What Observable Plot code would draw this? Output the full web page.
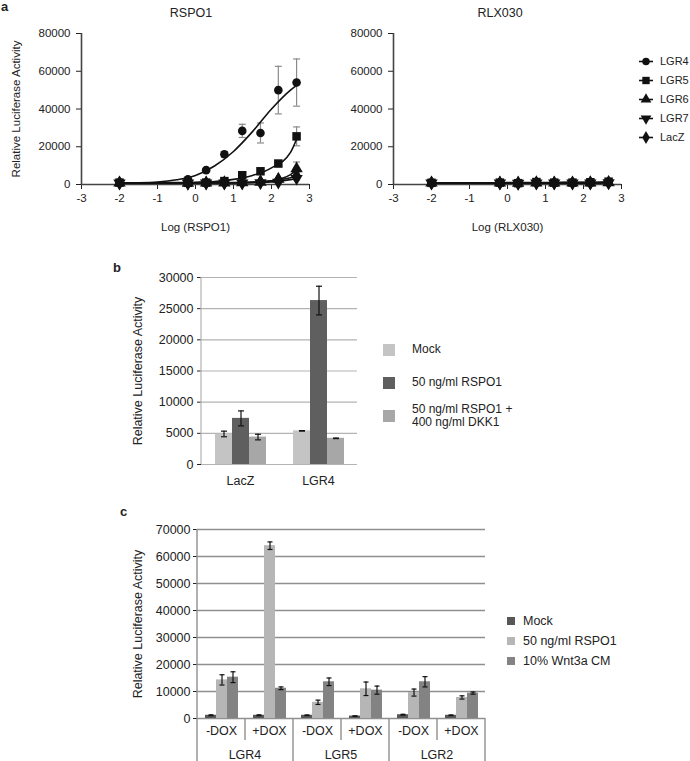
<!DOCTYPE html>
<html><head><meta charset="utf-8">
<script src="https://cdn.jsdelivr.net/npm/d3@7"></script>
<script src="https://cdn.jsdelivr.net/npm/@observablehq/plot@0.6"></script>
<style>
body{margin:0;background:#fff;font-family:"Liberation Sans",Arial,sans-serif;color:#222}
#root{position:relative;width:690px;height:761px;overflow:hidden;background:#fff}
.abs{position:absolute;white-space:nowrap}
.letter{font-weight:bold;font-size:13px;line-height:13px}
.ttl{font-size:12.5px;transform:translateX(-50%)}
</style></head><body><div id="root"></div>
<script>
// ---------- Panel a data ----------
const logDose = [-2, -0.2, 0.28, 0.76, 1.23, 1.71, 2.18, 2.66];
const fitX = [-2, -1.5, -1, -0.5, 0, 0.5, 1, 1.5, 2, 2.5, 2.66];
const receptors = ["LGR4", "LGR5", "LGR6", "LGR7", "LacZ"];
const xTicksA = [-3, -2, -1, 0, 1, 2, 3];
const yTicksA = [0, 20000, 40000, 60000, 80000];

const rspoLGR4 = [900, 2800, 7600, 16000, 28400, 27300, 50000, 54000];
const rspoLGR4Err = [300, 500, 800, 1500, 3500, 5300, 12600, 12500];
const rspoLGR5 = [1000, 900, 1000, 1800, 4900, 7000, 11100, 25500];
const rspoLGR5Err = [200, 200, 200, 300, 600, 800, 1200, 5000];
const rspoLGR6 = [800, 700, 800, 900, 1000, 1200, 2800, 8400];
const rspoLGR6Err = [150, 150, 150, 150, 200, 300, 600, 3500];
const rspoLGR7 = [800, 700, 700, 800, 800, 900, 1200, 3200];
const rspoLGR7Err = [150, 150, 150, 150, 150, 200, 300, 800];
const rspoLacZ = [800, 700, 800, 900, 1000, 1400, 2500, 4600];
const rspoLacZErr = [150, 150, 150, 150, 200, 300, 500, 1500];

const rspoFitLGR4 = [800, 900, 1300, 2500, 4800, 9800, 17500, 28000, 40000, 50000, 52500];
const rspoFitLGR5 = [900, 900, 950, 1000, 1200, 1600, 2700, 4800, 8800, 17000, 24000];
const rspoFitLGR6 = [800, 800, 800, 800, 800, 850, 900, 1100, 2000, 5200, 8000];
const rspoFitLGR7 = [800, 800, 800, 800, 800, 800, 850, 950, 1400, 2600, 3200];
const rspoFitLacZ = [800, 800, 800, 800, 850, 900, 1000, 1300, 2000, 3600, 4500];

const rlxLGR4 = [1000, 900, 800, 1100, 900, 900, 1000, 1100];
const rlxLGR5 = [900, 1000, 700, 1300, 1000, 1000, 1200, 1500];
const rlxLGR6 = [800, 800, 700, 900, 800, 800, 900, 1000];
const rlxLGR7 = [700, 700, 600, 800, 700, 700, 800, 900];
const rlxLacZ = [800, 800, 700, 900, 800, 800, 900, 1000];
const rlxErr = [150, 150, 150, 200, 150, 150, 200, 250];
const rlxFitLGR4 = [950, 950, 950, 950, 950, 950, 950, 970, 1000, 1050, 1050];
const rlxFitLGR5 = [950, 950, 950, 950, 980, 1000, 1050, 1100, 1150, 1250, 1300];
const rlxFitLGR6 = [800, 800, 800, 800, 800, 800, 820, 840, 860, 900, 950];
const rlxFitLGR7 = [700, 700, 700, 700, 700, 700, 720, 740, 760, 800, 850];
const rlxFitLacZ = [800, 800, 800, 800, 800, 800, 820, 840, 860, 900, 950];

// ---------- Panel b data ----------
const bCategories = ["LacZ", "LGR4"];
const bConditions = ["Mock", "50 ng/ml RSPO1", "50 ng/ml RSPO1 +\n400 ng/ml DKK1"];
const bColors = ["#c4c4c4", "#5f5f5f", "#a7a7a7"];
const bMock = [4900, 5400];
const bMockErr = [450, 40];
const bRspo = [7400, 26300];
const bRspoErr = [1200, 2300];
const bDkk = [4400, 4200];
const bDkkErr = [450, 40];
const yTicksB = [0, 5000, 10000, 15000, 20000, 25000, 30000];

// ---------- Panel c data ----------
const cGenes = ["LGR4", "LGR5", "LGR2"];
const cDox = ["-DOX", "+DOX"];
const cConditions = ["Mock", "50 ng/ml RSPO1", "10% Wnt3a CM"];
const cColors = ["#575757", "#b6b6b6", "#838383"];
const cMock = [1200, 1200, 1200, 900, 1400, 1200];
const cMockErr = [150, 150, 100, 80, 150, 100];
const cRspo = [14300, 64000, 6000, 11000, 9600, 7800];
const cRspoErr = [1900, 1400, 800, 2500, 1300, 600];
const cWnt = [15300, 11200, 13600, 10500, 13600, 9400];
const cWntErr = [2000, 500, 1400, 1500, 1900, 400];
const yTicksC = [0, 10000, 20000, 30000, 40000, 50000, 60000, 70000];

const yTitle = "Relative Luciferase Activity";
const FONT = '"Liberation Sans", Arial, sans-serif';

// ---------- helpers ----------
const root = document.getElementById("root");
function place(el, left, top) { el.style.position = "absolute"; el.style.left = left + "px"; el.style.top = top + "px"; root.appendChild(el); return el; }
function div(html, left, top, cls, css) { const d = document.createElement("div"); d.className = "abs " + (cls || ""); d.innerHTML = html; if (css) d.style.cssText += css; return place(d, left, top); }

const cap = { draw(ctx, size) { const w = Math.sqrt(size); ctx.moveTo(-w / 2, 0); ctx.lineTo(w / 2, 0); } };
const capR = w => Math.sqrt(w * w / Math.PI);
const triangleDown = { draw(ctx, size) { const s3 = Math.sqrt(3); const y = -Math.sqrt(size / (s3 * 3)); ctx.moveTo(0, -y * 2); ctx.lineTo(-s3 * y, y); ctx.lineTo(s3 * y, y); ctx.closePath(); } };
const symbolsA = ["circle", "square", "triangle", triangleDown, "diamond"];
const symbolD3 = [d3.symbolCircle, d3.symbolSquare, d3.symbolTriangle, triangleDown, d3.symbolDiamond];
const rA = [4.3, 4.8, 4.6, 4.6, 4.6];

// ---------- Panel a ----------
function doseChart({ series, errs, fits, label, showY, width, ml }) {
  const pts = [], fitRows = [];
  receptors.forEach((r, k) => {
    series[k].forEach((v, i) => pts.push({ r, x: logDose[i], y: v, e: errs[k][i] }));
    fits[k].forEach((v, i) => fitRows.push({ r, x: fitX[i], y: v }));
  });
  return Plot.plot({
    width, height: 233, marginLeft: ml, marginRight: width - ml - 228, marginTop: 33, marginBottom: 49,
    style: { fontFamily: FONT, fontSize: "11.5px", color: "#222", background: "transparent", overflow: "visible" },
    x: { domain: [xTicksA[0], xTicksA[xTicksA.length - 1]], ticks: xTicksA, tickFormat: d => String(d), tickSize: 5, tickPadding: 4,
         label, labelAnchor: "center", labelOffset: 46, labelArrow: "none" },
    y: { domain: [yTicksA[0], yTicksA[yTicksA.length - 1]], ticks: yTicksA, tickFormat: d3.format("d"), tickSize: 5, tickPadding: 6,
         label: showY ? yTitle : null, labelAnchor: "center", labelOffset: 70, labelArrow: "none" },
    marks: [
      Plot.ruleX(pts, { x: "x", y1: d => d.y - d.e, y2: d => d.y + d.e, stroke: "#8a8a8a", strokeWidth: 1.2 }),
      Plot.dot(pts, { x: "x", y: d => d.y + d.e, symbol: cap, r: capR(7), fill: "none", stroke: "#8a8a8a", strokeWidth: 1.2 }),
      Plot.dot(pts, { x: "x", y: d => d.y - d.e, symbol: cap, r: capR(7), fill: "none", stroke: "#8a8a8a", strokeWidth: 1.2 }),
      Plot.ruleY([yTicksA[0]], { stroke: "#444", strokeWidth: 1.6 }),
      Plot.ruleX([xTicksA[0]], { stroke: "#444", strokeWidth: 1.6 }),
      Plot.line(fitRows, { x: "x", y: "y", z: "r", curve: "monotone-x", stroke: "#111", strokeWidth: 1.6 }),
      ...receptors.map((r, k) => Plot.dot(pts.filter(d => d.r === r), { x: "x", y: "y", symbol: symbolsA[k], r: rA[k], fill: "#111", stroke: "none" }))
    ]
  });
}

div("a", 1, 0, "letter");
div("RSPO1", 191, 6, "ttl");
div("RLX030", 500, 6, "ttl");

const chartA1 = doseChart({
  series: [rspoLGR4, rspoLGR5, rspoLGR6, rspoLGR7, rspoLacZ],
  errs: [rspoLGR4Err, rspoLGR5Err, rspoLGR6Err, rspoLGR7Err, rspoLacZErr],
  fits: [rspoFitLGR4, rspoFitLGR5, rspoFitLGR6, rspoFitLGR7, rspoFitLacZ],
  label: "Log (RSPO1)", showY: true, width: 330, ml: 81
});
place(chartA1, 0, 0);

const chartA2 = doseChart({
  series: [rlxLGR4, rlxLGR5, rlxLGR6, rlxLGR7, rlxLacZ],
  errs: [rlxErr, rlxErr, rlxErr, rlxErr, rlxErr],
  fits: [rlxFitLGR4, rlxFitLGR5, rlxFitLGR6, rlxFitLGR7, rlxFitLacZ],
  label: "Log (RLX030)", showY: false, width: 300, ml: 63
});
place(chartA2, 330, 0);

// legend a
receptors.forEach((r, k) => {
  const path = d3.symbol(symbolD3[k], Math.PI * rA[k] * rA[k] * 0.75)();
  div(`<svg width="20" height="19" style="vertical-align:middle"><line x1="2" x2="16" y1="9.5" y2="9.5" stroke="#111" stroke-width="1.6"/><path d="${path}" transform="translate(9,9.5)" fill="#111"/></svg><span style="margin-left:3px;vertical-align:middle;font-size:11px">${r}</span>`,
      637, 51 + 19 * k, "", "height:19px;line-height:19px");
});

// ---------- Panel b ----------
const bRows = [];
bCategories.forEach((c, i) => {
  [[bMock, bMockErr], [bRspo, bRspoErr], [bDkk, bDkkErr]].forEach(([vals, errs], k) =>
    bRows.push({ cat: c, cond: bConditions[k], v: vals[i], e: errs[i] }));
});
const chartB = Plot.plot({
  width: 270, height: 245, marginLeft: 100, marginRight: 13, marginTop: 27, marginBottom: 31,
  style: { fontFamily: FONT, fontSize: "12.5px", color: "#222", background: "transparent", overflow: "visible" },
  fx: { domain: bCategories, padding: 0, label: null, tickSize: 0, tickPadding: 12, axis: "bottom" },
  x: { domain: bConditions, paddingInner: 0, paddingOuter: 0.74, axis: null },
  y: { domain: [yTicksB[0], yTicksB[yTicksB.length - 1]], ticks: yTicksB, tickFormat: d3.format("d"), tickSize: 4, tickPadding: 4,
       label: yTitle, labelAnchor: "center", labelOffset: 68, labelArrow: "none" },
  color: { domain: bConditions, range: bColors },
  marks: [
    Plot.ruleY(yTicksB, { stroke: "#b3b3b3", strokeWidth: 1.2 }),
    Plot.barY(bRows, { fx: "cat", x: "cond", y: "v", fill: "cond", inset: 0 }),
    Plot.ruleX(bRows, { fx: "cat", x: "cond", y1: d => d.v - d.e, y2: d => d.v + d.e, stroke: "#111", strokeWidth: 1.2 }),
    Plot.dot(bRows, { fx: "cat", x: "cond", y: d => d.v + d.e, symbol: cap, r: capR(6), fill: "none", stroke: "#111", strokeWidth: 1.2 }),
    Plot.dot(bRows, { fx: "cat", x: "cond", y: d => d.v - d.e, symbol: cap, r: capR(6), fill: "none", stroke: "#111", strokeWidth: 1.2 })
  ]
});
{
  const fxS = chartB.scale("fx"), yS = chartB.scale("y");
  const x0 = fxS.apply(bCategories[0]);
  d3.select(chartB).append("line").attr("x1", x0).attr("x2", x0)
    .attr("y1", yS.apply(yTicksB[yTicksB.length - 1])).attr("y2", yS.apply(0)).attr("stroke", "#b3b3b3").attr("stroke-width", 1.2);
}
place(chartB, 100, 250);
div("b", 113, 261, "letter");

// legend b
bConditions.forEach((c, k) => {
  div(`<span style="display:inline-block;width:12px;height:12px;background:${bColors[k]};vertical-align:middle"></span><span style="display:inline-block;margin-left:17px;vertical-align:middle;white-space:pre-line;font-size:12px;line-height:13px">${c}</span>`,
      383, 333 + 33 * k, "", "height:33px;display:flex;align-items:center");
});

// ---------- Panel c ----------
const cKeys = [];
cGenes.forEach(g => cDox.forEach(d => cKeys.push(g + " " + d)));
const cRows = [];
cKeys.forEach((key, i) => {
  [[cMock, cMockErr], [cRspo, cRspoErr], [cWnt, cWntErr]].forEach(([vals, errs], k) =>
    cRows.push({ key, cond: cConditions[k], v: vals[i], e: errs[i] }));
});
const chartC = Plot.plot({
  width: 400, height: 261, marginLeft: 97, marginRight: 15, marginTop: 29, marginBottom: 43,
  style: { fontFamily: FONT, fontSize: "12.5px", color: "#222", background: "transparent", overflow: "visible" },
  fx: { domain: cKeys, padding: 0, label: null, tickSize: 0, tickPadding: 8, axis: "bottom", tickFormat: d => d.split(" ")[1] },
  x: { domain: cConditions, paddingInner: 0, paddingOuter: 0.68, axis: null },
  y: { domain: [yTicksC[0], yTicksC[yTicksC.length - 1]], ticks: yTicksC, tickFormat: d3.format("d"), tickSize: 4, tickPadding: 3,
       label: yTitle, labelAnchor: "center", labelOffset: 64, labelArrow: "none" },
  color: { domain: cConditions, range: cColors },
  marks: [
    Plot.ruleY(yTicksC, { stroke: "#8f8f8f", strokeWidth: 1.4 }),
    Plot.barY(cRows, { fx: "key", x: "cond", y: "v", fill: "cond", inset: 0 }),
    Plot.ruleX(cRows, { fx: "key", x: "cond", y1: d => d.v - d.e, y2: d => d.v + d.e, stroke: "#111", strokeWidth: 1.2 }),
    Plot.dot(cRows, { fx: "key", x: "cond", y: d => d.v + d.e, symbol: cap, r: capR(5), fill: "none", stroke: "#111", strokeWidth: 1.2 }),
    Plot.dot(cRows, { fx: "key", x: "cond", y: d => d.v - d.e, symbol: cap, r: capR(5), fill: "none", stroke: "#111", strokeWidth: 1.2 })
  ]
});
{
  const fxS = chartC.scale("fx"), yS = chartC.scale("y");
  const H = 261, y0 = yS.apply(0), yTop = yS.apply(yTicksC[yTicksC.length - 1]);
  const g = d3.select(chartC).append("g").attr("stroke", "#8f8f8f").attr("stroke-width", 1.4);
  cKeys.forEach((key, i) => {
    const x = fxS.apply(key);
    const groupStart = i % cDox.length === 0;
    g.append("line").attr("x1", x).attr("x2", x).attr("y1", i === 0 ? yTop : y0).attr("y2", groupStart ? H : y0 + 22);
  });
  const xEnd = fxS.apply(cKeys[cKeys.length - 1]) + fxS.bandwidth;
  g.append("line").attr("x1", xEnd).attr("x2", xEnd).attr("y1", y0).attr("y2", H);
  const t = d3.select(chartC).append("g").attr("font-size", "12.5px").attr("fill", "#222").attr("text-anchor", "middle");
  cGenes.forEach((gene, j) => {
    const xm = fxS.apply(cKeys[j * cDox.length]) + fxS.bandwidth * cDox.length / 2;
    t.append("text").attr("x", xm).attr("y", y0 + 37).attr("dy", "0.35em").text(gene);
  });
}
place(chartC, 100, 500);
div("c", 120, 505, "letter");

// legend c
cConditions.forEach((c, k) => {
  div(`<span style="display:inline-block;width:8px;height:8px;background:${cColors[k]};vertical-align:middle"></span><span style="display:inline-block;margin-left:8px;vertical-align:middle;font-size:12.5px">${c}</span>`,
      507, 611 + 20 * k, "", "height:20px;display:flex;align-items:center");
});
</script></body></html>
